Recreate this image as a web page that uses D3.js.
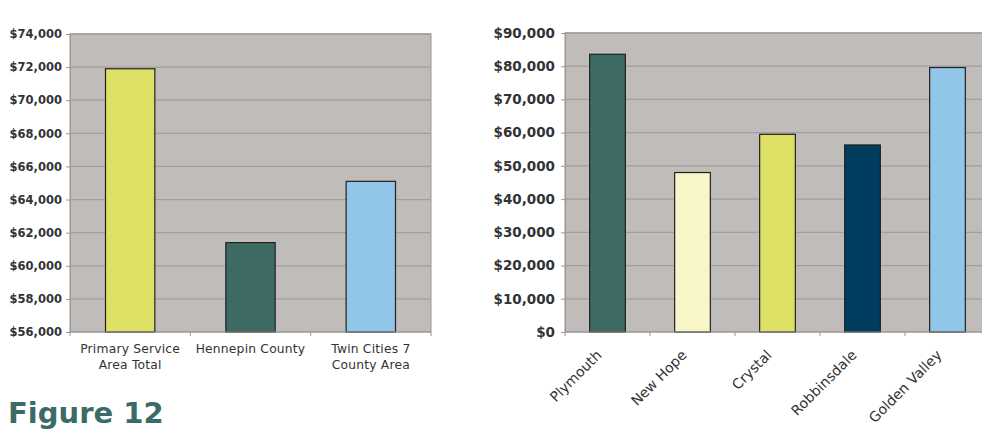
<!DOCTYPE html>
<html><head><meta charset="utf-8">
<script src="https://cdn.jsdelivr.net/npm/d3@7"></script>
<style>body{margin:0;background:#fff;}svg{display:block;}text{font-family:"DejaVu Sans",Verdana,sans-serif;}</style>
</head><body><svg id="c" width="982" height="444"></svg>
<script>
// Left chart data
const leftCategories = ["Primary Service|Area Total", "Hennepin County", "Twin Cities 7|County Area"];
const leftValues = [71900, 61400, 65100];
const leftColors = ["#dde065", "#3d6b64", "#92c6e8"];
const leftTicks = [56000, 58000, 60000, 62000, 64000, 66000, 68000, 70000, 72000, 74000];

// Right chart data
const rightCategories = ["Plymouth", "New Hope", "Crystal", "Robbinsdale", "Golden Valley"];
const rightValues = [83600, 48000, 59500, 56300, 79600];
const rightColors = ["#3d6b64", "#f8f5c8", "#dde065", "#003d5f", "#92c6e8"];
const rightTicks = [0, 10000, 20000, 30000, 40000, 50000, 60000, 70000, 80000, 90000];

const title = "Figure 12";

const svg = d3.select("#c");
const fmt = d3.format("$,");

function drawChart(cfg) {
  const g = svg.append("g");
  const x = d3.scaleBand().domain(cfg.cats.map((d,i)=>i)).range([cfg.x0, cfg.x1]).paddingInner(cfg.pad).paddingOuter(cfg.pad/2);
  const y = d3.scaleLinear().domain([cfg.ticks[0], cfg.ticks[cfg.ticks.length-1]]).range([cfg.y1, cfg.y0]);
  g.append("rect").attr("x", cfg.x0).attr("y", cfg.y0).attr("width", cfg.x1-cfg.x0).attr("height", cfg.y1-cfg.y0)
    .attr("fill", "#c0bcba").attr("stroke", "#9a9796").attr("stroke-width", 1);
  g.append("g").selectAll("line").data(cfg.ticks.slice(1)).join("line")
    .attr("x1", cfg.x0).attr("x2", cfg.x1).attr("y1", d=>y(d)).attr("y2", d=>y(d))
    .attr("stroke", "#a19e9c").attr("stroke-width", 1.3);
  g.append("g").selectAll("rect").data(cfg.vals).join("rect")
    .attr("x", (d,i)=>x(i)).attr("width", x.bandwidth())
    .attr("y", d=>y(d)).attr("height", d=>y(cfg.ticks[0])-y(d))
    .attr("fill", (d,i)=>cfg.colors[i]).attr("stroke", "#222").attr("stroke-width", 1.2);
  const ya = d3.axisLeft(y).tickValues(cfg.ticks).tickFormat(fmt).tickSize(4).tickPadding(cfg.tickPad);
  const yg = g.append("g").attr("transform", `translate(${cfg.x0},0)`).call(ya);
  yg.attr("font-family", null).attr("font-size", null);
  yg.select(".domain").attr("stroke", "#9a9796");
  yg.selectAll(".tick line").attr("stroke", "#9a9796");
  yg.selectAll("text").attr("fill", "#333")
    .style("font-family", '"DejaVu Sans", Verdana, sans-serif')
    .style("font-size", cfg.tickFont+"px").style("font-weight", "bold");
  const step = x.step();
  const bounds = d3.range(cfg.cats.length+1).map(i => cfg.x0 + i*step);
  g.append("g").selectAll("line").data(bounds).join("line")
    .attr("x1", d=>d).attr("x2", d=>d).attr("y1", cfg.y1).attr("y2", cfg.y1+4).attr("stroke", "#9a9796");
  g.append("line").attr("x1", cfg.x0).attr("x2", cfg.x1).attr("y1", cfg.y1).attr("y2", cfg.y1).attr("stroke", "#9a9796");
  const lab = g.append("g");
  cfg.cats.forEach((c,i) => {
    const cx = x(i) + x.bandwidth()/2;
    if (cfg.rotate) {
      lab.append("text").attr("transform", `translate(${cx-5},${cfg.y1+24}) rotate(-45)`)
        .attr("text-anchor", "end").attr("fill", "#333").style("font-size", cfg.catFont+"px").text(c);
    } else {
      const t = lab.append("text").attr("x", cx).attr("y", cfg.y1+21).attr("text-anchor", "middle")
        .attr("fill", "#333").style("font-size", cfg.catFont+"px").style("letter-spacing", "0.2px");
      c.split("|").forEach((line, k) => t.append("tspan").attr("x", cx).attr("dy", k ? 16 : 0).text(line));
    }
  });
}

drawChart({cats: leftCategories, vals: leftValues, colors: leftColors, ticks: leftTicks,
  x0: 70, x1: 431, y0: 34, y1: 332, pad: 0.59, tickFont: 11.5, tickPad: 4, catFont: 12.3, rotate: false});
drawChart({cats: rightCategories, vals: rightValues, colors: rightColors, ticks: rightTicks,
  x0: 565, x1: 990, y0: 33, y1: 332, pad: 0.58, tickFont: 13.5, tickPad: 6, catFont: 14, rotate: true});

svg.append("text").attr("x", 8).attr("y", 423).attr("fill", "#3b6b66")
  .style("font-size", "29px").style("font-weight", "bold").text(title);
</script></body></html>
